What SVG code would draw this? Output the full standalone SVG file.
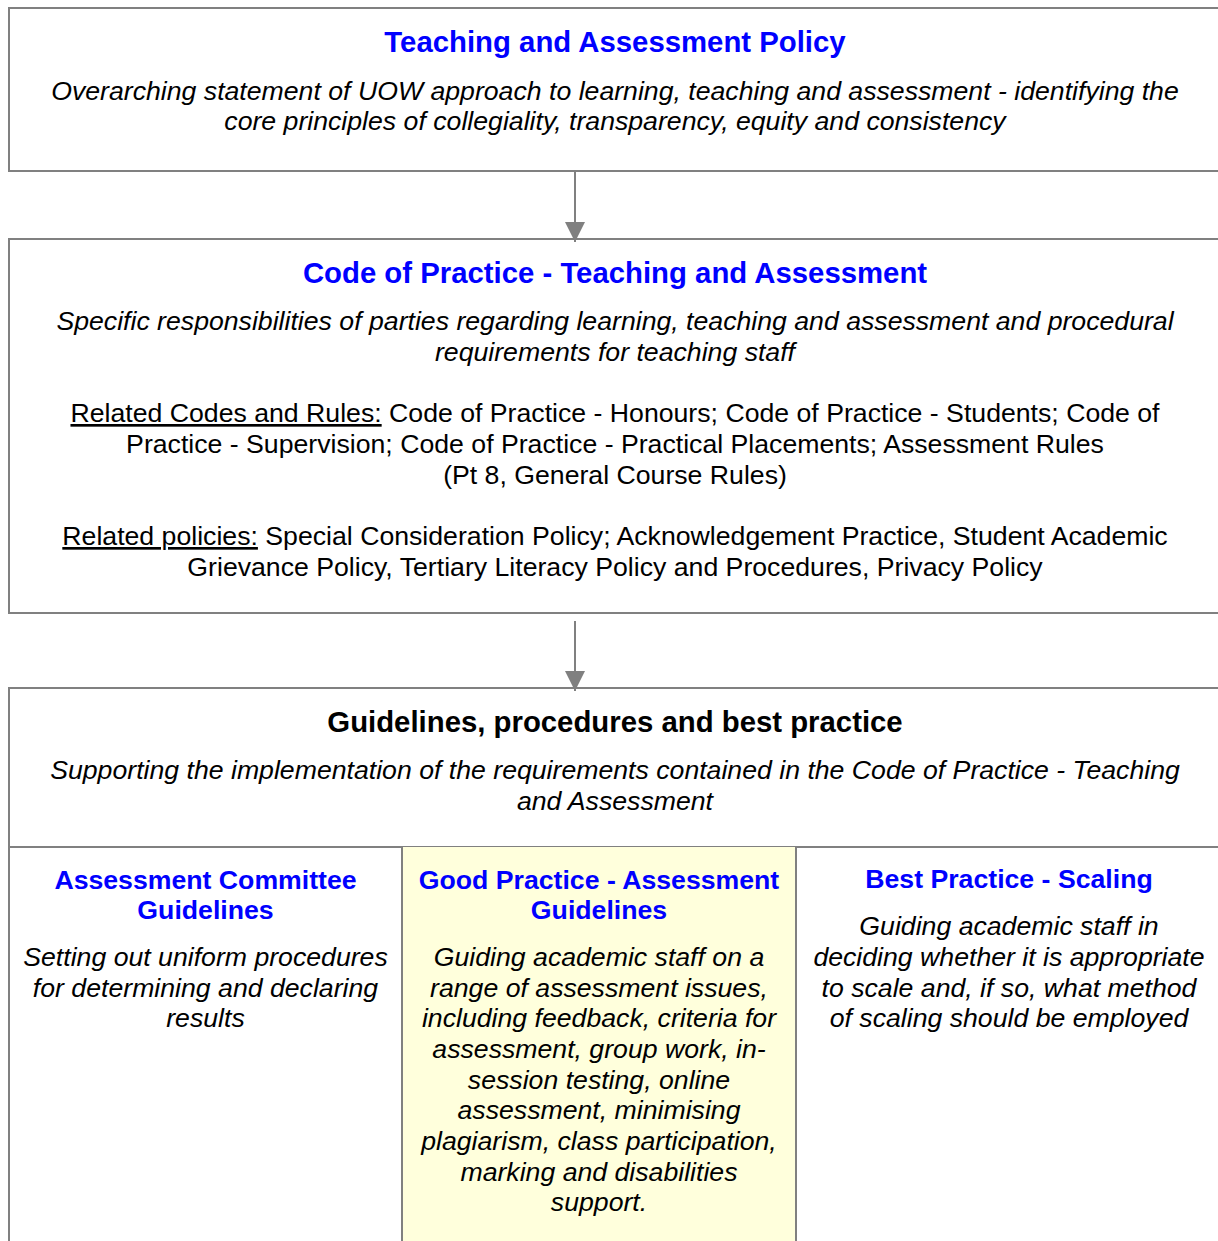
<svg xmlns="http://www.w3.org/2000/svg" width="1218" height="1241" viewBox="0 0 1218 1241">
  <style>
    .box { fill: #ffffff; stroke: #808080; stroke-width: 2; }
    .rule { stroke: #808080; stroke-width: 2; fill: none; }
    .conn { stroke: #808080; stroke-width: 2; fill: none; }
    text { font-family: "Liberation Sans", Arial, sans-serif; text-anchor: middle; fill: #000000; }
    .title { font-size: 29.33px; font-weight: bold; fill: #0000ff; }
    .head { font-size: 29.33px; font-weight: bold; fill: #000000; }
    .sub { font-size: 26.67px; font-weight: bold; fill: #0000ff; }
    .desc { font-size: 26.67px; font-style: italic; }
    .body { font-size: 26.67px; }
    .u { text-decoration: underline; text-decoration-skip-ink: none; }
  </style>
  <defs>
    <marker id="arrowhead" markerUnits="userSpaceOnUse" markerWidth="20" markerHeight="20" refX="20" refY="10" orient="auto">
      <path d="M0,0 L20,10 L0,20 Z" fill="#808080"/>
    </marker>
  </defs>
  <rect width="1218" height="1241" fill="#ffffff"/>

  <!-- Top-level policy -->
  <g id="node-policy">
    <rect class="box" x="9" y="8" width="1214" height="163"/>
    <text class="title" x="615" y="52">Teaching and Assessment Policy</text>
    <text class="desc" x="615" y="100">Overarching statement of UOW approach to learning, teaching and assessment - identifying the</text>
    <text class="desc" x="615" y="130">core principles of collegiality, transparency, equity and consistency</text>
  </g>

  <!-- Code of practice -->
  <g id="node-code">
    <rect class="box" x="9" y="239" width="1214" height="374"/>
    <text class="title" x="615" y="283">Code of Practice - Teaching and Assessment</text>
    <text class="desc" x="615" y="330">Specific responsibilities of parties regarding learning, teaching and assessment and procedural</text>
    <text class="desc" x="615" y="361">requirements for teaching staff</text>
    <text class="body" x="615" y="422"><tspan class="u">Related Codes and Rules:</tspan> Code of Practice - Honours; Code of Practice - Students; Code of</text>
    <text class="body" x="615" y="453">Practice - Supervision; Code of Practice - Practical Placements; Assessment Rules</text>
    <text class="body" x="615" y="484">(Pt 8, General Course Rules)</text>
    <text class="body" x="615" y="545"><tspan class="u">Related policies:</tspan> Special Consideration Policy; Acknowledgement Practice, Student Academic</text>
    <text class="body" x="615" y="576">Grievance Policy, Tertiary Literacy Policy and Procedures, Privacy Policy</text>
  </g>

  <!-- Guidelines container -->
  <g id="node-guidelines">
    <rect class="box" x="9" y="688" width="1214" height="600"/>
    <text class="head" x="615" y="732">Guidelines, procedures and best practice</text>
    <text class="desc" x="615" y="779">Supporting the implementation of the requirements contained in the Code of Practice - Teaching</text>
    <text class="desc" x="615" y="810">and Assessment</text>
    <line class="rule" x1="9" y1="847" x2="1223" y2="847"/>
  </g>

  <g id="node-assessment-committee">
    <text class="sub" x="205.5" y="889">Assessment Committee</text>
    <text class="sub" x="205.5" y="919">Guidelines</text>
    <text class="desc" x="205.5" y="966">Setting out uniform procedures</text>
    <text class="desc" x="205.5" y="997">for determining and declaring</text>
    <text class="desc" x="205.5" y="1027">results</text>
  </g>

  <g id="node-good-practice">
    <rect x="402" y="847" width="394" height="400" fill="#ffffdc"/>
    <line class="rule" x1="402" y1="847" x2="402" y2="1250"/>
    <line class="rule" x1="796" y1="847" x2="796" y2="1250"/>
    <text class="sub" x="599" y="889">Good Practice - Assessment</text>
    <text class="sub" x="599" y="919">Guidelines</text>
    <text class="desc" x="599" y="966">Guiding academic staff on a</text>
    <text class="desc" x="599" y="997">range of assessment issues,</text>
    <text class="desc" x="599" y="1027">including feedback, criteria for</text>
    <text class="desc" x="599" y="1058">assessment, group work, in-</text>
    <text class="desc" x="599" y="1089">session testing, online</text>
    <text class="desc" x="599" y="1119">assessment, minimising</text>
    <text class="desc" x="599" y="1150">plagiarism, class participation,</text>
    <text class="desc" x="599" y="1181">marking and disabilities</text>
    <text class="desc" x="599" y="1211">support.</text>
  </g>

  <g id="node-scaling">
    <text class="sub" x="1009" y="888">Best Practice - Scaling</text>
    <text class="desc" x="1009" y="935">Guiding academic staff in</text>
    <text class="desc" x="1009" y="966">deciding whether it is appropriate</text>
    <text class="desc" x="1009" y="997">to scale and, if so, what method</text>
    <text class="desc" x="1009" y="1027">of scaling should be employed</text>
  </g>

  <!-- Connectors -->
  <g id="connectors">
    <line class="conn" x1="575" y1="171" x2="575" y2="242" marker-end="url(#arrowhead)"/>
    <line class="conn" x1="575" y1="621" x2="575" y2="691" marker-end="url(#arrowhead)"/>
  </g>
</svg>
